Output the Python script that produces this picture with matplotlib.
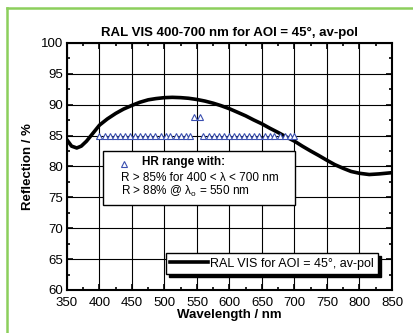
import matplotlib
matplotlib.use("Agg")
import matplotlib.pyplot as plt
from matplotlib.lines import Line2D
from matplotlib.patches import Rectangle
from matplotlib.ticker import MultipleLocator

plt.rcParams['font.family'] = ['Liberation Sans', 'DejaVu Sans']
plt.rcParams['mathtext.fontset'] = 'custom'
plt.rcParams['mathtext.rm'] = 'Liberation Sans'

# reflection curve
wavelength = [350, 357, 365, 372, 380, 390, 400, 412, 425, 437, 450, 462, 475,
              487, 500, 512, 525, 537, 550, 562, 575, 587, 600, 612, 625, 637,
              650, 662, 675, 687, 700, 712, 725, 737, 750, 762, 775, 787, 800,
              815, 830, 840, 850]
reflection = [84.3, 83.3, 83.0, 83.3, 84.1, 85.4, 86.7, 87.7, 88.6, 89.3, 89.9,
              90.4, 90.8, 91.0, 91.15, 91.2, 91.15, 91.05, 90.85, 90.6, 90.25,
              89.85, 89.35, 88.8, 88.2, 87.55, 86.9, 86.2, 85.5, 84.8, 84.1,
              83.3, 82.5, 81.8, 81.0, 80.3, 79.7, 79.2, 78.9, 78.7, 78.8, 78.9,
              79.0]

# HR specification markers
hr_low_x = [400, 408, 416, 424, 431, 439, 447, 455, 463, 470, 478, 486, 494,
            502, 509, 517, 525, 533, 540]
hr_high_x = [560, 568, 576, 584, 591, 599, 607, 615, 623, 630, 638, 646, 654,
             662, 669, 677, 685, 693, 700]
hr_low_y = [85] * len(hr_low_x)
hr_high_y = [85] * len(hr_high_x)
peak_x = [545, 555]
peak_y = [88, 88]

title = "RAL VIS 400-700 nm for AOI = 45°, av-pol"
series_label = "RAL VIS for AOI = 45°, av-pol"

fig = plt.figure(figsize=(4.14, 3.33), dpi=100)
ax = fig.add_axes([67 / 414, 1 - 290 / 333, 325 / 414, 247 / 333])

ax.plot(wavelength, reflection, color='black', lw=2.6, label=series_label,
        zorder=3)
tri = dict(marker='^', linestyle='none', markersize=5, markerfacecolor='white',
           markeredgecolor='#3a4fb0', markeredgewidth=0.8, zorder=4)
ax.plot(hr_low_x, hr_low_y, **tri)
ax.plot(hr_high_x, hr_high_y, **tri)
ax.plot(peak_x, peak_y, **tri)

ax.set_xlim(350, 850)
ax.set_ylim(60, 100)
ax.xaxis.set_major_locator(MultipleLocator(50))
ax.xaxis.set_minor_locator(MultipleLocator(25))
ax.yaxis.set_major_locator(MultipleLocator(5))
ax.yaxis.set_minor_locator(MultipleLocator(2.5))
ax.tick_params(which='both', direction='in', top=True, right=True,
               labelsize=9.5, width=1.2)
ax.tick_params(axis='x', pad=5)
ax.tick_params(axis='y', pad=2.5)
ax.tick_params(which='major', length=4)
ax.tick_params(which='minor', length=2.5)
ax.grid(True, which='major', color='black', lw=0.8)
for s in ax.spines.values():
    s.set_linewidth(1.5)

ax.set_title(title, fontsize=9.5, fontweight='bold', pad=5)
ax.set_xlabel("Wavelength / nm", fontsize=9.5, fontweight='bold', labelpad=0)
ax.set_ylabel("Reflection / %", fontsize=9.5, fontweight='bold', labelpad=5)

# HR range box
ax.add_patch(Rectangle((0.111, 0.344), 0.591, 0.219, transform=ax.transAxes,
                       facecolor='white', edgecolor='black', lw=1.0, zorder=5))
ax.plot([0.176], [0.51], transform=ax.transAxes, clip_on=False,
        **dict(tri, zorder=6))
ax.text(0.232, 0.52, "HR range with:", transform=ax.transAxes, fontsize=8.5,
        fontweight='bold', va='center', zorder=6)
ax.text(0.166, 0.455, "R > 85% for 400 < λ < 700 nm", transform=ax.transAxes,
        fontsize=8.5, va='center', zorder=6)
ax.text(0.166, 0.40, r"R > 88% @ λ$_\mathrm{o}$ = 550 nm",
        transform=ax.transAxes, fontsize=8.5, va='center', zorder=6)

leg = ax.legend(loc='lower right', bbox_to_anchor=(0.958, 0.065), fontsize=9,
                frameon=True, fancybox=False, shadow={'color': 'black', 'alpha': 1},
                edgecolor='black', framealpha=1, handlelength=3.0,
                handletextpad=0.2, borderpad=0.35, borderaxespad=0)
leg.get_frame().set_linewidth(1.0)
leg.set_zorder(7)

# green frame around the figure
green = '#8ccf5c'
fig.add_artist(Line2D([7.5 / 414, 7.5 / 414], [0, 1 - 8 / 333], color=green,
                      lw=1.8, transform=fig.transFigure))
fig.add_artist(Line2D([7.5 / 414, 1], [1 - 8 / 333, 1 - 8 / 333], color=green,
                      lw=1.8, transform=fig.transFigure))

fig.savefig("out.png", dpi=100)
